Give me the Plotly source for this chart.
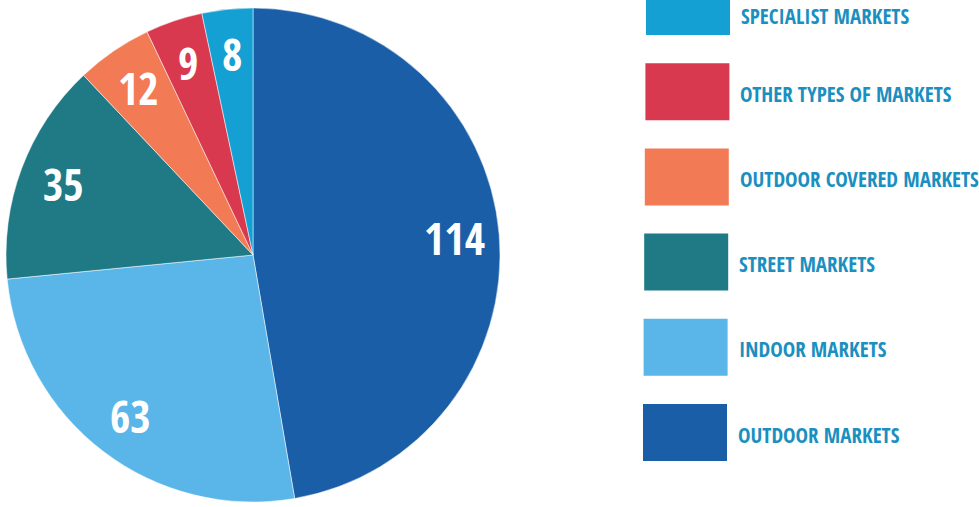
import math
import plotly.graph_objects as go

# ---- data ----
categories = ["OUTDOOR MARKETS", "INDOOR MARKETS", "STREET MARKETS",
              "OUTDOOR COVERED MARKETS", "OTHER TYPES OF MARKETS", "SPECIALIST MARKETS"]
values = [114, 63, 35, 12, 9, 8]
colors = ["#1a5ea8", "#5ab5e8", "#1f7a86", "#f27b56", "#d9394f", "#15a0d3"]
legend_order = ["SPECIALIST MARKETS", "OTHER TYPES OF MARKETS", "OUTDOOR COVERED MARKETS",
                "STREET MARKETS", "INDOOR MARKETS", "OUTDOOR MARKETS"]

W, H = 979, 507
FONT = "Open Sans Condensed, Roboto Condensed, DejaVu Sans Condensed, sans-serif"
TEXT_COLOR = "#1a8fc0"

# pie geometry (pixels)
cx, cy, R = 253, 255, 247

fig = go.Figure(go.Pie(
    labels=categories, values=values, sort=False, direction="clockwise", rotation=0,
    marker=dict(colors=colors, line=dict(color="white", width=0.5)),
    textinfo="none", hoverinfo="label+value", showlegend=False,
    domain=dict(x=[(cx - R) / W, (cx + R) / W], y=[1 - (cy + R) / H, 1 - (cy - R) / H]),
))

def px(x):
    return x / W

def py(y):
    return 1 - y / H

annotations = []
total = sum(values)
cum = 0
for v in values:
    mid = (cum + v / 2) / total * 2 * math.pi
    cum += v
    rr = 0.82 * R
    x = cx + rr * math.sin(mid)
    y = cy - rr * math.cos(mid)
    annotations.append(dict(x=px(x), y=py(y), xref="paper", yref="paper", text=f"<b>{v}</b>",
                            showarrow=False, font=dict(family=FONT, size=44, color="white"),
                            xanchor="center", yanchor="middle"))

# legend (drawn manually as large swatches)
shapes = []
color_of = dict(zip(categories, colors))
top0, step, sw_h = -22, 85.2, 57
for i, name in enumerate(legend_order):
    top = top0 + i * step
    x0 = 646 - i * 0.6
    shapes.append(dict(type="rect", xref="paper", yref="paper",
                       x0=px(x0), x1=px(x0 + 84), y0=py(top + sw_h), y1=py(top),
                       fillcolor=color_of[name], line=dict(width=0)))
    if i == 0:
        ty, anchor = 1.0, "top"
    else:
        ty, anchor = py(top + sw_h / 2 + 2), "middle"
    annotations.append(dict(x=px(739 - i * 0.6), y=ty, xref="paper", yref="paper",
                            text=f"<b>{name}</b>", showarrow=False, xanchor="left", yanchor=anchor,
                            font=dict(family=FONT, size=21, color=TEXT_COLOR)))

fig.update_layout(width=W, height=H, margin=dict(l=0, r=0, t=0, b=0),
                  paper_bgcolor="white", plot_bgcolor="white",
                  shapes=shapes, annotations=annotations)
fig.write_html("out.html")
